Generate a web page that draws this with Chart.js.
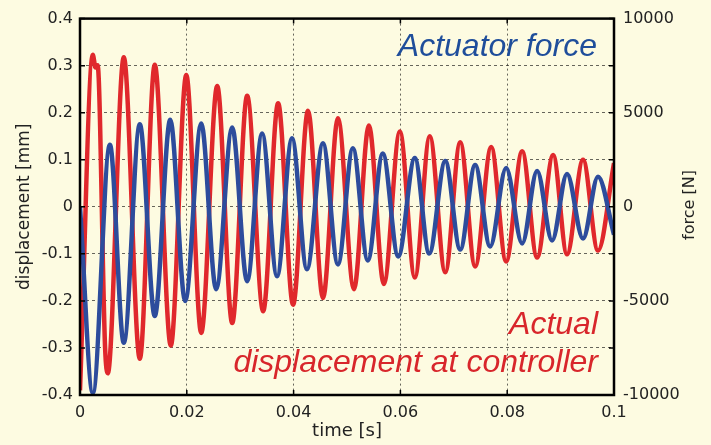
<!DOCTYPE html>
<html><head><meta charset="utf-8">
<script src="https://cdn.jsdelivr.net/npm/chart.js@4.4.1/dist/chart.umd.min.js"></script>
<style>html,body{margin:0;padding:0;background:#fdfbe1;}canvas{display:block}</style>
</head><body>
<canvas id="c" width="711" height="445"></canvas>
<script>
// Actual displacement at controller [mm] (left axis) - extremes
const dispTime  = [0, 0.0024, 0.0029, 0.0033, 0.0047, 0.0052, 0.0082, 0.0112, 0.0140, 0.0170, 0.0199, 0.0227, 0.0257, 0.0285, 0.0313, 0.0343, 0.0371, 0.0399, 0.0427, 0.0455, 0.0483, 0.0513, 0.0541, 0.0569, 0.0599, 0.0627, 0.0655, 0.0684, 0.0712, 0.0740, 0.0770, 0.0798, 0.0828, 0.0856, 0.0886, 0.0912, 0.0942, 0.0970, 0.1000];
const dispValue = [-0.39, 0.323, 0.296, 0.301, -0.30, -0.354, 0.318, -0.323, 0.302, -0.295, 0.280, -0.268, 0.257, -0.247, 0.236, -0.222, 0.220, -0.208, 0.204, -0.194, 0.188, -0.175, 0.173, -0.164, 0.160, -0.150, 0.150, -0.139, 0.137, -0.127, 0.127, -0.116, 0.118, -0.108, 0.110, -0.101, 0.100, -0.093, 0.093];
// Actuator force [N] (right axis)
const forceTime  = [0, 0.0024, 0.0056, 0.0082, 0.0112, 0.0140, 0.0169, 0.0197, 0.0227, 0.0255, 0.0285, 0.0313, 0.0341, 0.0369, 0.0397, 0.0425, 0.0455, 0.0483, 0.0511, 0.0539, 0.0567, 0.0596, 0.0627, 0.0654, 0.0684, 0.0712, 0.0740, 0.0768, 0.0798, 0.0828, 0.0856, 0.0884, 0.0912, 0.0942, 0.0970, 0.1000];
const forceValue = [0, -9900, 3300, -7230, 4380, -5800, 4620, -5010, 4430, -4380, 4220, -3960, 3900, -3690, 3640, -3320, 3380, -3060, 3110, -2850, 2830, -2640, 2590, -2480, 2430, -2270, 2220, -2110, 2060, -1950, 1900, -1790, 1740, -1690, 1600, -1480];

const xTickLabels = ['0', '0.02', '0.04', '0.06', '0.08', '0.1'];
const leftTickLabels = ['-0.4', '-0.3', '-0.2', '-0.1', '0', '0.1', '0.2', '0.3', '0.4'];
const rightTickLabels = ['-10000', '', '-5000', '', '0', '', '5000', '', '10000'];

const BG = '#fdfbe1';
const RED = '#e0282c';
const BLUE = '#2d4c9c';
const TXT = '#222222';
const TICKFONT = {family: '"DejaVu Sans"', size: 16};

const dispData = dispTime.map((t, i) => ({x: t, y: dispValue[i]}));
const forceData = forceTime.map((t, i) => ({x: t, y: forceValue[i]}));

const decor = {
  id: 'decor',
  beforeDraw(chart) {
    const ctx = chart.ctx;
    ctx.save();
    ctx.fillStyle = BG;
    ctx.fillRect(0, 0, chart.width, chart.height);
    ctx.restore();
  },
  afterDatasetsDraw(chart) {
    const ctx = chart.ctx;
    const a = chart.chartArea;
    const sx = chart.scales.x, sy = chart.scales.y, sy2 = chart.scales.y2;
    ctx.save();
    ctx.strokeStyle = '#000';
    ctx.lineWidth = 1.5;
    ctx.beginPath();
    sx.ticks.forEach(t => {
      const px = sx.getPixelForValue(t.value);
      ctx.moveTo(px, a.bottom); ctx.lineTo(px, a.bottom - 5);
      ctx.moveTo(px, a.top); ctx.lineTo(px, a.top + 5);
    });
    sy.ticks.forEach(t => {
      const py = sy.getPixelForValue(t.value);
      ctx.moveTo(a.left, py); ctx.lineTo(a.left + 5, py);
    });
    sy2.ticks.forEach(t => {
      const py = sy2.getPixelForValue(t.value);
      ctx.moveTo(a.right, py); ctx.lineTo(a.right - 5, py);
    });
    ctx.stroke();
    ctx.lineWidth = 2.5;
    ctx.strokeRect(a.left, a.top, a.right - a.left, a.bottom - a.top);
    ctx.restore();
  },
  afterDraw(chart) {
    const ctx = chart.ctx;
    ctx.save();
    ctx.font = 'italic 32px "Liberation Sans"';
    ctx.textAlign = 'right';
    ctx.textBaseline = 'alphabetic';
    ctx.fillStyle = '#1f4e9b';
    ctx.fillText('Actuator force', 597, 56);
    ctx.fillStyle = '#d8262b';
    ctx.fillText('Actual', 598, 334);
    ctx.fillText('displacement at controller', 598, 372);
    // right axis title, reading bottom to top
    ctx.translate(690, 205);
    ctx.rotate(-Math.PI / 2);
    ctx.font = '16px "DejaVu Sans"';
    ctx.fillStyle = TXT;
    ctx.textAlign = 'center';
    ctx.textBaseline = 'middle';
    ctx.fillText('force [N]', 0, 0);
    ctx.restore();
  }
};

new Chart(document.getElementById('c'), {
  type: 'line',
  data: {
    datasets: [
      {label: 'Actuator force', data: forceData, yAxisID: 'y2', borderColor: BLUE, borderWidth: 4.5,
       pointRadius: 0, fill: false, cubicInterpolationMode: 'monotone', order: 0},
      {label: 'Actual displacement at controller', data: dispData, yAxisID: 'y', borderColor: RED, borderWidth: 4.5,
       pointRadius: 0, fill: false, cubicInterpolationMode: 'monotone', order: 1}
    ]
  },
  options: {
    responsive: false,
    animation: false,
    devicePixelRatio: 1,
    layout: {padding: {top: 16, left: 0, right: 0, bottom: 0}},
    plugins: {legend: {display: false}, tooltip: {enabled: false}},
    scales: {
      x: {
        type: 'linear', min: 0, max: 0.1,
        afterFit(s) { s.height = 50; },
        ticks: {stepSize: 0.02, padding: 8, color: TXT, font: TICKFONT, maxRotation: 0,
                callback: (v, i) => xTickLabels[i]},
        grid: {drawTicks: false, color: 'rgba(0,0,0,0.75)', lineWidth: 0.8},
        border: {display: false, dash: [2, 3]},
        title: {display: true, text: 'time [s]', color: TXT, font: {family: '"DejaVu Sans"', size: 18},
                padding: {top: 0, bottom: 3}}
      },
      y: {
        position: 'left', min: -0.4, max: 0.4,
        afterFit(s) { s.width = 80; },
        ticks: {stepSize: 0.1, padding: 7, color: TXT, font: TICKFONT,
                callback: (v, i) => leftTickLabels[i]},
        grid: {drawTicks: false, color: 'rgba(0,0,0,0.75)', lineWidth: 0.8},
        border: {display: false, dash: [3, 3]},
        title: {display: true, text: 'displacement [mm]', color: TXT, font: {family: '"DejaVu Sans"', size: 17},
                padding: {top: 14, bottom: 0}}
      },
      y2: {
        position: 'right', min: -10000, max: 10000,
        afterFit(s) { s.width = 97; },
        ticks: {stepSize: 2500, padding: 9, color: TXT, font: TICKFONT,
                callback: (v, i) => rightTickLabels[i]},
        grid: {display: false, drawTicks: false},
        border: {display: false}
      }
    }
  },
  plugins: [decor]
});
</script>
</body></html>
